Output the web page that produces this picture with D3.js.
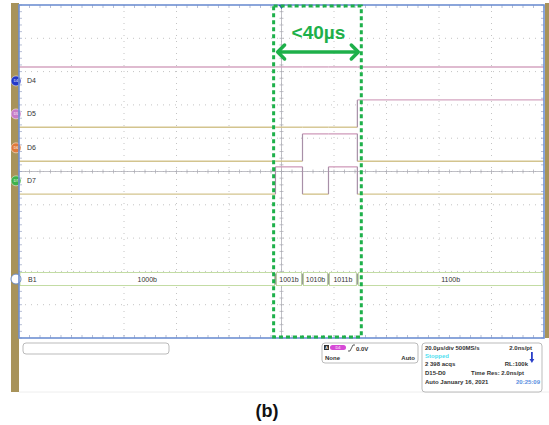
<!DOCTYPE html>
<html>
<head>
<meta charset="utf-8">
<script src="https://cdn.jsdelivr.net/npm/d3@7"></script>
<style>
  body { margin: 0; background: #fff; }
  svg { display: block; font-family: "Liberation Sans", Arial, sans-serif; }
</style>
</head>
<body>
<script>
// data
const channels = ["D4", "D5", "D6", "D7"];
const channelRows = [2.28, 3.27, 4.29, 5.28];          // divisions from top
const markerColors = ["#2438c8", "#c77bc7", "#e07a3a", "#3fb24a"];
const edgeTimes = [-100, -2.3, 8.0, 17.9, 28.9, 100];  // µs, trigger at 0
const busValues = ["1000b", "1001b", "1010b", "1011b", "1100b"];
const busName = "B1";
const busRow = 8.23;
const windowTimes = [-3.0, 30.4];
const windowLabel = "<40\u00b5s";
const infoLines = [
  ["20.0\u00b5s/div 500MS/s", "2.0ns/pt"],
  ["Stopped", ""],
  ["2 398 acqs", "RL:100k"],
  ["D15-D0", "Time Res: 2.0ns/pt"],
  ["Auto  January 16, 2021", "20:25:09"]
];

const width = 549, height = 425;
const svg = d3.select("body").append("svg")
  .attr("width", width).attr("height", height);

const x = d3.scaleLinear().domain([-100, 100]).range([19, 544]);
const y = d3.scaleLinear().domain([0, 10]).range([5, 338]);

// frame
svg.append("rect").attr("x", 11).attr("y", 3).attr("width", 8).attr("height", 389).attr("fill", "#a8935a");
svg.append("rect").attr("x", 545).attr("y", 3).attr("width", 4).attr("height", 335).attr("fill", "#a8935a");
svg.append("rect").attr("x", 19).attr("y", 5).attr("width", 525).attr("height", 333).attr("fill", "#fff");

// grid
const grid = svg.append("g");
const divs = d3.range(1, 10);
grid.selectAll(".gv").data(divs).enter().append("line")
  .attr("x1", d => x(-100 + d * 20)).attr("x2", d => x(-100 + d * 20))
  .attr("y1", y(0)).attr("y2", y(10))
  .attr("stroke", "#c4c4c4").attr("stroke-dasharray", "1,5");
grid.selectAll(".gh").data(divs).enter().append("line")
  .attr("y1", d => y(d)).attr("y2", d => y(d))
  .attr("x1", x(-100)).attr("x2", x(100))
  .attr("stroke", "#c4c4c4").attr("stroke-dasharray", "1,5");

// center axes
grid.append("line").attr("x1", x(0)).attr("x2", x(0)).attr("y1", y(0)).attr("y2", y(10))
  .attr("stroke", "#b0b0b8").attr("stroke-width", 0.8);
grid.append("line").attr("x1", x(-100)).attr("x2", x(100)).attr("y1", y(5)).attr("y2", y(5))
  .attr("stroke", "#b0b0b8").attr("stroke-width", 0.8);

const subX = d3.range(-100, 100.1, 4);
const subY = d3.range(0, 10.01, 0.2);
grid.selectAll(".tx").data(subX).enter().append("line")
  .attr("x1", d => x(d)).attr("x2", d => x(d))
  .attr("y1", y(5) - 2).attr("y2", y(5) + 2).attr("stroke", "#a8a8b0").attr("stroke-width", 0.7);
grid.selectAll(".ty").data(subY).enter().append("line")
  .attr("y1", d => y(d)).attr("y2", d => y(d))
  .attr("x1", x(0) - 2).attr("x2", x(0) + 2).attr("stroke", "#a8a8b0").attr("stroke-width", 0.7);
// edge ticks
[y(0), y(10)].forEach((yy, i) => {
  grid.selectAll(".ex" + i).data(subX).enter().append("line")
    .attr("x1", d => x(d)).attr("x2", d => x(d))
    .attr("y1", yy).attr("y2", i ? yy - 3 : yy + 3).attr("stroke", "#9aa4c4").attr("stroke-width", 0.7);
});
[x(-100), x(100)].forEach((xx, i) => {
  grid.selectAll(".ey" + i).data(subY).enter().append("line")
    .attr("y1", d => y(d)).attr("y2", d => y(d))
    .attr("x1", xx).attr("x2", i ? xx - 3 : xx + 3).attr("stroke", "#9aa4c4").attr("stroke-width", 0.7);
});

// digital traces
const hiColor = "#d4a4c0", loColor = "#d3c48e", edgeColor = "#a890a8";
channels.forEach((ch, ci) => {
  const row = channelRows[ci];
  const hiY = y(row - 0.42), loY = y(row + 0.4);
  const bits = busValues.map(v => v[ci] === "1");
  bits.forEach((b, si) => {
    svg.append("line")
      .attr("x1", x(edgeTimes[si])).attr("x2", x(edgeTimes[si + 1]))
      .attr("y1", b ? hiY : loY).attr("y2", b ? hiY : loY)
      .attr("stroke", b ? hiColor : loColor).attr("stroke-width", 1.4);
    if (si > 0 && bits[si - 1] !== b) {
      svg.append("line")
        .attr("x1", x(edgeTimes[si])).attr("x2", x(edgeTimes[si]))
        .attr("y1", hiY).attr("y2", loY)
        .attr("stroke", edgeColor).attr("stroke-width", 1.2);
    }
  });
  svg.append("circle").attr("cx", 16).attr("cy", y(row)).attr("r", 5)
    .attr("fill", markerColors[ci]).attr("stroke", "#fff").attr("stroke-width", 0.5);
  svg.append("text").attr("x", 16).attr("y", y(row) + 1.5).attr("text-anchor", "middle")
    .attr("font-size", 3.5).attr("fill", "#fff").text(ch);
  svg.append("text").attr("x", 27).attr("y", y(row) + 2.5)
    .attr("font-size", 7).attr("fill", "#333").text(ch);
});

// bus
const busTop = y(busRow) - 6.5, busH = 13;
busValues.forEach((v, i) => {
  const x0 = x(edgeTimes[i]) + 1, x1 = x(edgeTimes[i + 1]) - 1;
  svg.append("rect").attr("x", x0).attr("y", busTop).attr("width", x1 - x0).attr("height", busH)
    .attr("fill", "#fff").attr("stroke", "#bcd89a").attr("stroke-width", 0.9);
  if (i > 0) {
    svg.append("rect").attr("x", x(edgeTimes[i]) - 0.7).attr("y", busTop + 1).attr("width", 1.4).attr("height", busH - 2)
      .attr("fill", "#9a9a9a");
  }
  svg.append("text").attr("x", (x0 + x1) / 2).attr("y", y(busRow) + 2.5).attr("text-anchor", "middle")
    .attr("font-size", 7).attr("fill", "#333").text(v);
});
svg.append("circle").attr("cx", 16).attr("cy", y(busRow)).attr("r", 5)
  .attr("fill", "#fff").attr("stroke", "#6a8cc8").attr("stroke-width", 1);
svg.append("text").attr("x", 28).attr("y", y(busRow) + 2.5)
  .attr("font-size", 7).attr("fill", "#333").text(busName);

// plot border
svg.append("rect").attr("x", 19).attr("y", 5).attr("width", 525).attr("height", 333)
  .attr("fill", "none").attr("stroke", "#6f90d2").attr("stroke-width", 1.6);

// trigger marker
svg.append("path").attr("d", `M${x(0) - 3},5 L${x(0) + 3},5 L${x(0)},9 Z`).attr("fill", "#2a50b8");

// measurement window
const green = "#1eb04a";
svg.append("rect")
  .attr("x", x(windowTimes[0])).attr("y", 6)
  .attr("width", x(windowTimes[1]) - x(windowTimes[0])).attr("height", 331)
  .attr("fill", "none").attr("stroke", green).attr("stroke-width", 3)
  .attr("stroke-dasharray", "4,3");
const ay = 52, ax0 = x(windowTimes[0]) + 3, ax1 = x(windowTimes[1]) - 2;
svg.append("line").attr("x1", ax0 + 2).attr("x2", ax1 - 2).attr("y1", ay).attr("y2", ay)
  .attr("stroke", green).attr("stroke-width", 3.5);
svg.append("path").attr("d", `M${ax0 + 8},${ay - 7} L${ax0 + 1},${ay} L${ax0 + 8},${ay + 7}`)
  .attr("fill", "none").attr("stroke", green).attr("stroke-width", 3.5).attr("stroke-linecap", "round").attr("stroke-linejoin", "round");
svg.append("path").attr("d", `M${ax1 - 8},${ay - 7} L${ax1 - 1},${ay} L${ax1 - 8},${ay + 7}`)
  .attr("fill", "none").attr("stroke", green).attr("stroke-width", 3.5).attr("stroke-linecap", "round").attr("stroke-linejoin", "round");
svg.append("text").attr("x", (x(windowTimes[0]) + x(windowTimes[1])) / 2 + 1).attr("y", 39)
  .attr("text-anchor", "middle").attr("font-size", 19).attr("font-weight", "bold")
  .attr("fill", green).text(windowLabel);

// status area
const st = svg.append("g");
st.append("line").attr("x1", 19).attr("x2", 549).attr("y1", 392).attr("y2", 392).attr("stroke", "#eee");
st.append("rect").attr("x", 23).attr("y", 343).attr("width", 146).attr("height", 11).attr("rx", 3)
  .attr("fill", "#fff").attr("stroke", "#aaa").attr("stroke-width", 0.8);

st.append("rect").attr("x", 322).attr("y", 343).attr("width", 96).attr("height", 20).attr("rx", 3)
  .attr("fill", "#fff").attr("stroke", "#aaa").attr("stroke-width", 0.8);
st.append("rect").attr("x", 324).attr("y", 345).attr("width", 5).attr("height", 5).attr("fill", "#333");
st.append("text").attr("x", 326.5).attr("y", 349.3).attr("text-anchor", "middle").attr("font-size", 4).attr("fill", "#fff").text("A");
st.append("rect").attr("x", 330).attr("y", 345).attr("width", 16).attr("height", 5).attr("rx", 2.5).attr("fill", "#d64ad6");
st.append("text").attr("x", 338).attr("y", 349.3).attr("text-anchor", "middle").attr("font-size", 4).attr("fill", "#fff").text("D4");
st.append("path").attr("d", "M348,351 L350,351 L353,345 L355,345").attr("fill", "none").attr("stroke", "#333").attr("stroke-width", 0.8);
st.append("text").attr("x", 356).attr("y", 350.5).attr("font-size", 6).attr("font-weight", "bold").attr("fill", "#333").text("0.0V");
st.append("text").attr("x", 325).attr("y", 360).attr("font-size", 6).attr("font-weight", "bold").attr("fill", "#333").text("None");
st.append("text").attr("x", 415).attr("y", 360).attr("text-anchor", "end").attr("font-size", 6).attr("font-weight", "bold").attr("fill", "#333").text("Auto");

st.append("rect").attr("x", 422).attr("y", 343).attr("width", 120).attr("height", 49).attr("rx", 3)
  .attr("fill", "#fff").attr("stroke", "#aaa").attr("stroke-width", 0.8);
const lineY = [350, 358, 366, 375, 384];
const rightX = [532, 0, 528, 524, 540];
infoLines.forEach((l, i) => {
  st.append("text").attr("x", 425).attr("y", lineY[i]).attr("font-size", 6).attr("font-weight", "bold")
    .attr("fill", i === 1 ? "#4fe0f0" : "#333").text(l[0]);
  if (l[1]) st.append("text").attr("x", rightX[i]).attr("y", lineY[i]).attr("text-anchor", "end")
    .attr("font-size", 6).attr("font-weight", "bold").attr("fill", i === 4 ? "#5a8ee0" : "#333").text(l[1]);
});
st.append("rect").attr("x", 531).attr("y", 352).attr("width", 1.8).attr("height", 8).attr("fill", "#2a3fc8");
st.append("path").attr("d", "M529.5,359 L534.3,359 L531.9,363 Z").attr("fill", "#2a3fc8");

// caption
svg.append("text").attr("x", 267).attr("y", 417).attr("text-anchor", "middle")
  .attr("font-size", 18).attr("font-weight", "bold").attr("fill", "#111").text("(b)");
</script>
</body>
</html>
